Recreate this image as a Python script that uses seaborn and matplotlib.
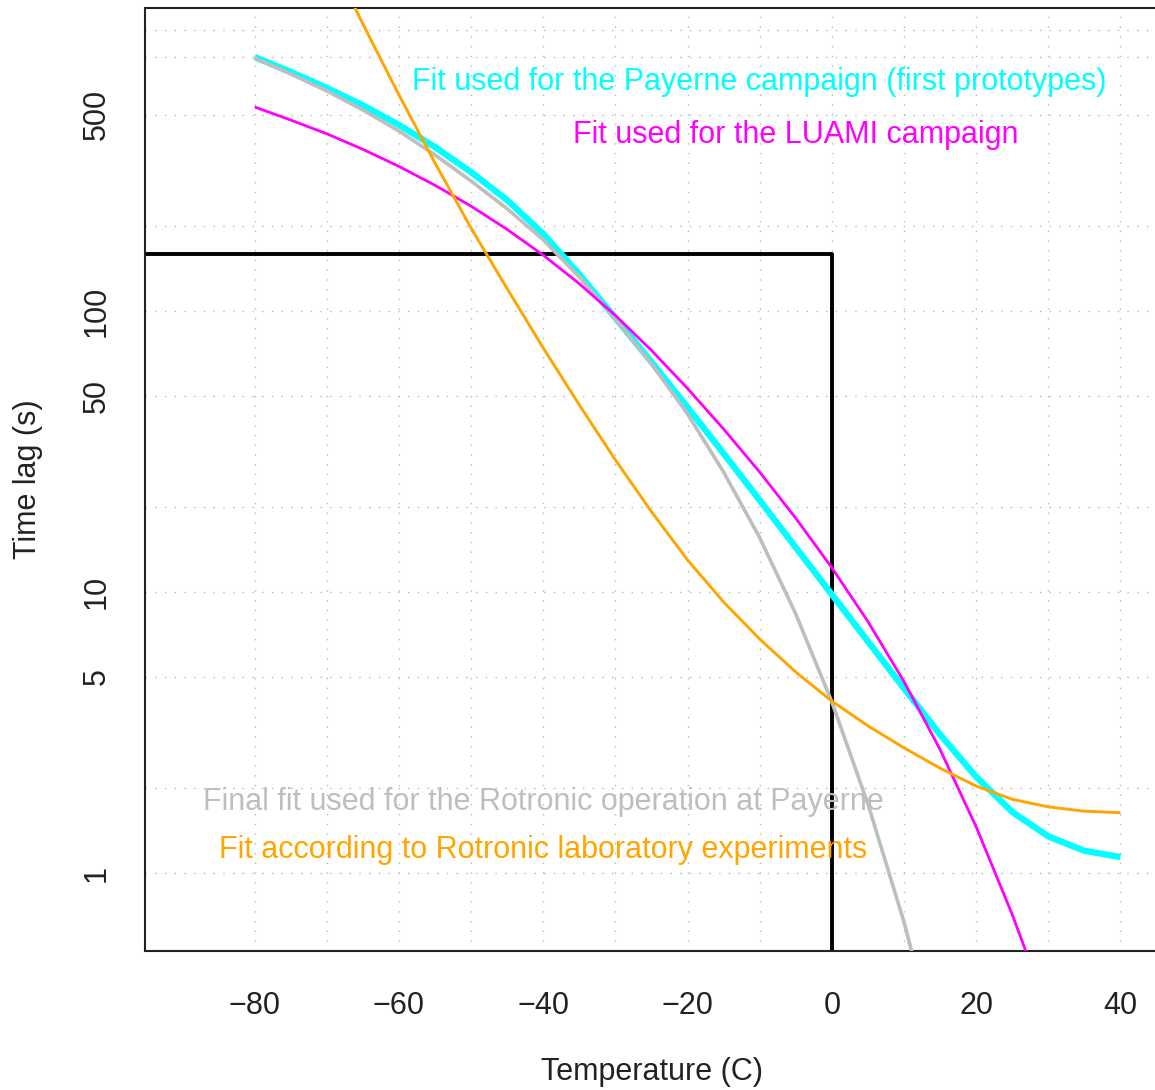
import matplotlib
matplotlib.use("Agg")
import matplotlib.pyplot as plt
import numpy as np
import pandas as pd
import seaborn as sns

# ---------------- data ----------------
temp_proto = [-80, -75, -70, -65, -60, -55, -50, -45, -40, -35, -30, -25, -20,
              -15, -10, -5, 0, 5, 10, 15, 20, 25, 30, 35, 40]
lag_proto = [801, 709, 622, 539, 459, 383, 312, 248, 188, 135, 94.4, 65.8, 45.4,
             31.1, 21.2, 14.4, 9.80, 6.67, 4.54, 3.11, 2.20, 1.65, 1.35, 1.20, 1.14]

temp_luami = [-80, -75, -70, -65, -60, -55, -50, -45, -40, -35, -30, -25, -20,
              -15, -10, -5, 0, 5, 10, 15, 20, 25, 30]
lag_luami = [532, 478, 427, 376, 327, 280, 236, 195, 158, 125, 96.4, 72.4, 53.0,
             38.0, 26.7, 18.3, 12.2, 7.85, 4.80, 2.75, 1.46, 0.712, 0.320]

temp_final = [-80, -75, -70, -65, -60, -55, -50, -45, -40, -35, -30, -25, -20,
              -15, -10, -5, 0, 5, 10, 15]
lag_final = [795, 697, 607, 519, 437, 359, 290, 231, 179, 132, 93.6, 64.8, 43.0,
             26.7, 15.6, 8.35, 4.06, 1.76, 0.669, 0.216]

temp_lab = [-70, -65, -60, -55, -50, -45, -40, -35, -30, -25, -20, -15, -10,
            -5, 0, 5, 10, 15, 20, 25, 30, 35, 40]
lag_lab = [1926, 1050, 587, 336, 197, 120, 73.8, 46.3, 29.5, 19.3, 13.0, 9.21, 6.80,
           5.19, 4.09, 3.34, 2.79, 2.36, 2.04, 1.83, 1.72, 1.66, 1.64]

ref_temp = [-100, 0, 0]
ref_lag = [160, 160, 0.1]

x_ticks = [-80, -60, -40, -20, 0, 20, 40]
y_ticks = [1, 5, 10, 50, 100, 500, 1000]
y_tick_labels = ["1", "5", "10", "50", "100", "500", ""]
grid_x = [-80, -70, -60, -50, -40, -30, -20, -10, 0, 10, 20, 30, 40]
grid_y = [1, 2, 5, 10, 20, 50, 100, 200, 500, 800, 1000]

labels = {
    "proto": "Fit used for the Payerne campaign (first prototypes)",
    "luami": "Fit used for the LUAMI campaign",
    "final": "Final fit used for the Rotronic operation at Payerne",
    "lab": "Fit according to Rotronic laboratory experiments",
}

# ---------------- styling ----------------
sns.set_style("white")
plt.rcParams["font.family"] = ["Liberation Sans", "DejaVu Sans"]
FS = 22

W, H = 1155, 1090
fig = plt.figure(figsize=(W / 100, H / 100), dpi=100)
left_px, right_px, top_px, bottom_px = 145, 1158, 8, 951
ax = fig.add_axes([left_px / W, 1 - bottom_px / H,
                   (right_px - left_px) / W, (bottom_px - top_px) / H])
ax.set_yscale("log")
ax.set_xlim(-95.2, 45.2)
ax.set_ylim(0.528, 1197)

# grid (dotted light gray)
for gx in grid_x:
    ax.axvline(gx, color="#b8b8b8", lw=1.0, ls=(0, (1, 6)), zorder=0.5)
for gy in grid_y:
    ax.axhline(gy, color="#b8b8b8", lw=1.0, ls=(0, (1, 6)), zorder=0.5)

# black reference lines
sns.lineplot(x=ref_temp, y=ref_lag, ax=ax, color="black", lw=2.8,
             sort=False, estimator=None, zorder=1)

# fits
line_kw = dict(sort=False, estimator=None, solid_joinstyle="round",
               solid_capstyle="butt")
sns.lineplot(x=temp_proto, y=lag_proto, ax=ax, color="#00FFFF", lw=4.6,
             zorder=2, **line_kw)
sns.lineplot(x=temp_final, y=lag_final, ax=ax, color="#BEBEBE", lw=2.6,
             zorder=3, **line_kw)
sns.lineplot(x=temp_luami, y=lag_luami, ax=ax, color="#FF00FF", lw=2.0,
             zorder=4, **line_kw)
sns.lineplot(x=temp_lab, y=lag_lab, ax=ax, color="#FFA500", lw=2.1,
             zorder=5, **line_kw)

# annotations
ax.text(-10, 612, labels["proto"], color="#00FFFF", fontsize=FS,
        ha="center", va="baseline", zorder=6)
ax.text(-5, 396, labels["luami"], color="#FF00FF", fontsize=FS,
        ha="center", va="baseline", zorder=6)
ax.text(-40, 1.676, labels["final"], color="#BEBEBE", fontsize=FS,
        ha="center", va="baseline", zorder=6)
ax.text(-40, 1.131, labels["lab"], color="#FFA500", fontsize=FS,
        ha="center", va="baseline", zorder=6)

# axes / ticks
ax.set_xticks(x_ticks)
ax.set_xticklabels([f"\u2212{abs(v)}" if v < 0 else str(v) for v in x_ticks])
ax.set_yticks(y_ticks)
ax.set_yticklabels(y_tick_labels)
ax.yaxis.set_minor_locator(matplotlib.ticker.NullLocator())
ax.tick_params(axis="both", which="major", direction="out", length=13,
               width=1.4, color="black", labelsize=FS, labelcolor="#222222")
ax.tick_params(axis="x", pad=15.5)
ax.tick_params(axis="y", pad=11)
for lab in ax.get_yticklabels():
    lab.set_rotation(90)
    lab.set_va("center")
    lab.set_ha("right")

for sp in ax.spines.values():
    sp.set_color("#222222")
    sp.set_linewidth(1.5)

ax.set_xlabel("Temperature (C)", fontsize=FS, color="#222222")
ax.set_ylabel("Time lag (s)", fontsize=FS, color="#222222")
ax.xaxis.label.set_va("center")
ax.xaxis.set_label_coords(0.5, (bottom_px - 1072) / (bottom_px - top_px))
ax.yaxis.label.set_va("center")
ax.yaxis.set_label_coords((28.5 - left_px) / (right_px - left_px), 0.5)

fig.savefig("out.png", dpi=100)
